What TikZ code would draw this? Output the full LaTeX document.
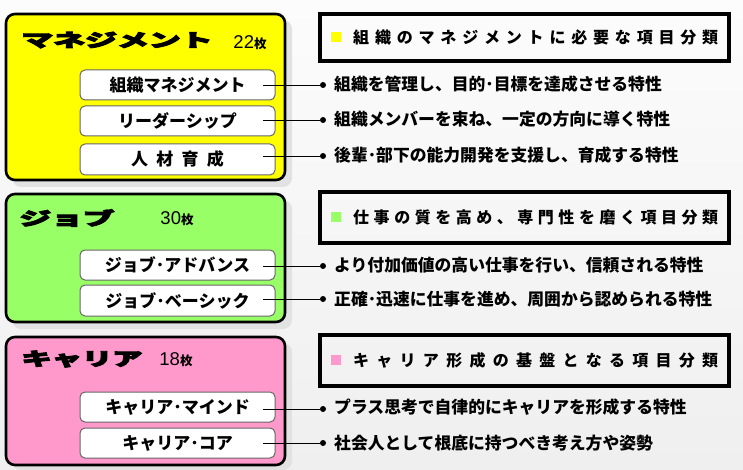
\documentclass[tikz,border=0pt]{standalone}
\usepackage{fontspec}
\setmainfont{Liberation Sans}
\newfontfamily\jp{Noto Sans CJK JP}
\newfontfamily\jpheavy{Noto Sans CJK JP}[FakeBold=5]
\makeatletter
\def\spreadchars#1{\spr@a#1\relax}
\def\spr@a#1{#1\spr@b}
\def\spr@b#1{\ifx\relax#1\else\hfill#1\expandafter\spr@b\fi}
\makeatother
\definecolor{cyel}{HTML}{FFFF00}
\definecolor{cgrn}{HTML}{99FF66}
\definecolor{cpnk}{HTML}{FF99CC}
\definecolor{bgtop}{HTML}{FCFCFC}
\definecolor{bgbot}{HTML}{EFEFEF}
\definecolor{shad}{HTML}{E2E2E2}
\tikzset{
  catbox/.style={draw=black, line width=2.6pt, rounded corners=9pt},
  catshadow/.style={fill=shad, rounded corners=9pt},
  itembox/.style={draw=black!60, fill=white, line width=1pt, rounded corners=5pt},
  itemlabel/.style={font=\jp\bfseries\fontsize{17pt}{17pt}\selectfont, inner sep=0pt},
  headbox/.style={draw=black, line width=3.6pt},
  headtext/.style={font=\jp\bfseries\fontsize{16pt}{16pt}\selectfont, inner sep=0pt, anchor=west},
  desc/.style={font=\jp\bfseries\fontsize{16.8pt}{16.8pt}\selectfont, inner sep=0pt, anchor=west},
  dot/.style={circle, fill=black, inner sep=0pt, minimum size=6pt},
  conn/.style={draw=black, line width=0.9pt},
  title/.style={font=\jpheavy\bfseries\fontsize{18pt}{18pt}\selectfont, inner sep=0pt},
  count/.style={inner sep=0pt},
}
\newcommand{\cnt}[1]{{\fontsize{18.5pt}{18pt}\selectfont #1}{\jp\bfseries\fontsize{12.5pt}{12pt}\selectfont 枚}}
\begin{document}
\begin{tikzpicture}[x=1pt,y=-1pt]
\useasboundingbox (0,0) rectangle (743,470);
\shade[top color=bgtop, bottom color=bgbot] (0,0) rectangle (743,470);

% ---------- Management ----------
\fill[catshadow] (12,20) rectangle (292,187);
\draw[catbox, fill=cyel] (6,14) rectangle (285,180);
\node[title] (mtitle) at (117,40) {\scalebox{1.77}[1]{マネジメント}};
\node[count] (mcount) at (250,43) {\cnt{22}};
\draw[itembox] (80,70) rectangle (275,100);
\node[itemlabel] (m1) at (177.5,85) {組織マネジメント};
\draw[itembox] (80,106) rectangle (275,136);
\node[itemlabel] (m2) at (177.5,121) {リーダーシップ};
\draw[itembox] (80,144) rectangle (275,175);
\node[itemlabel] (m3) at (177.5,159.5) {\makebox[93pt][s]{\spreadchars{人材育成}}};

\draw[headbox] (320,14) rectangle (729,61);
\fill[cyel] (331,32) rectangle (341,42);
\node[headtext] (mh) at (353,37.5) {\makebox[365pt][s]{\spreadchars{組織のマネジメントに必要な項目分類}}};

\coordinate (m1s) at (263,85);
\coordinate (m2s) at (263,120);
\coordinate (m3s) at (263,156);
\node[dot] (m1d) at (323,85) {};
\node[dot] (m2d) at (323,120) {};
\node[dot] (m3d) at (323,156) {};
\draw[conn] (m1s) -- (m1d);
\draw[conn] (m2s) -- (m2d);
\draw[conn] (m3s) -- (m3d);
\node[desc] (m1t) at (334,84) {組織を管理し、目的･目標を達成させる特性};
\node[desc] (m2t) at (334,119) {組織メンバーを束ね、一定の方向に導く特性};
\node[desc] (m3t) at (334,155) {後輩･部下の能力開発を支援し、育成する特性};

% ---------- Job ----------
\fill[catshadow] (12,200) rectangle (292,329);
\draw[catbox, fill=cgrn] (6,194) rectangle (285,322);
\node[title] (jtitle) at (67,218) {\scalebox{1.76}[1]{ジョブ}};
\node[count] (jcount) at (177,219) {\cnt{30}};
\draw[itembox] (80,250) rectangle (275,280);
\node[itemlabel] (j1) at (177.5,265) {ジョブ･アドバンス};
\draw[itembox] (80,285) rectangle (275,316);
\node[itemlabel] (j2) at (177.5,300.5) {ジョブ･ベーシック};

\draw[headbox] (320,192) rectangle (729,243);
\fill[cgrn] (331,212) rectangle (341,222);
\node[headtext] (jh) at (353,217.5) {\makebox[365pt][s]{\spreadchars{仕事の質を高め、専門性を磨く項目分類}}};

\coordinate (j1s) at (263,266);
\coordinate (j2s) at (263,299);
\node[dot] (j1d) at (323,266) {};
\node[dot] (j2d) at (323,299) {};
\draw[conn] (j1s) -- (j1d);
\draw[conn] (j2s) -- (j2d);
\node[desc] (j1t) at (334,265) {より付加価値の高い仕事を行い、信頼される特性};
\node[desc] (j2t) at (334,299) {正確･迅速に仕事を進め、周囲から認められる特性};

% ---------- Career ----------
\fill[catshadow] (12,343) rectangle (292,470);
\draw[catbox, fill=cpnk] (6,337) rectangle (285,465);
\node[title] (ctitle) at (82,359) {\scalebox{1.68}[1]{キャリア}};
\node[count] (ccount) at (176,360) {\cnt{18}};
\draw[itembox] (80,392) rectangle (275,422);
\node[itemlabel] (c1) at (177.5,407) {キャリア･マインド};
\draw[itembox] (80,428) rectangle (275,458);
\node[itemlabel] (c2) at (177.5,443) {キャリア･コア};

\draw[headbox] (320,335) rectangle (729,386);
\fill[cpnk] (331,355) rectangle (341,365);
\node[headtext] (ch) at (353,360.5) {\makebox[365pt][s]{\spreadchars{キャリア形成の基盤となる項目分類}}};

\coordinate (c1s) at (263,409);
\coordinate (c2s) at (263,443);
\node[dot] (c1d) at (323,409) {};
\node[dot] (c2d) at (323,443) {};
\draw[conn] (c1s) -- (c1d);
\draw[conn] (c2s) -- (c2d);
\node[desc] (c1t) at (334,407) {プラス思考で自律的にキャリアを形成する特性};
\node[desc] (c2t) at (334,443) {社会人として根底に持つべき考え方や姿勢};
\end{tikzpicture}
\end{document}
